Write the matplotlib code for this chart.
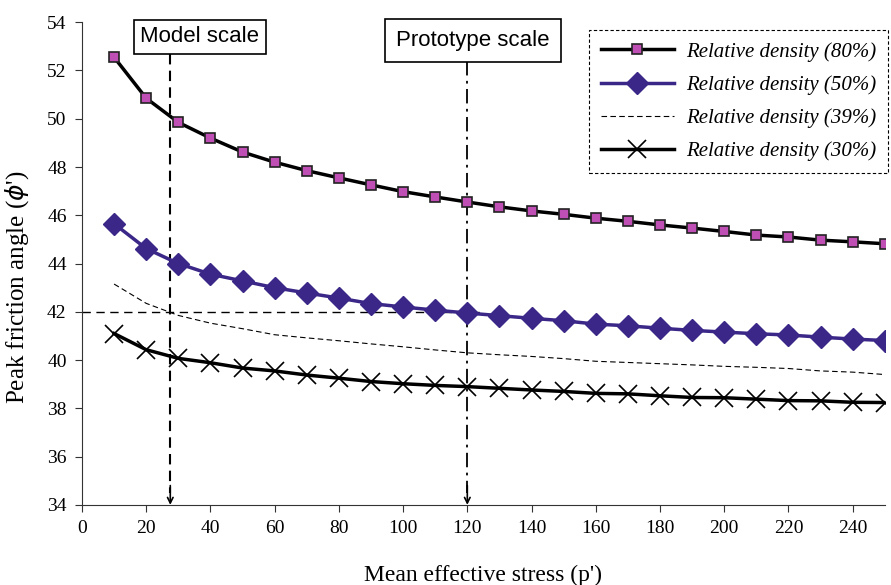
import matplotlib.pyplot as plt
import numpy as np

# mean effective stress (p')
stress = np.arange(10, 260, 10)

# peak friction angle for each relative density
dr80 = [52.55, 50.85, 49.85, 49.2, 48.62, 48.2, 47.85, 47.55, 47.26, 46.98,
        46.76, 46.55, 46.35, 46.18, 46.04, 45.88, 45.75, 45.6, 45.47, 45.33,
        45.18, 45.1, 44.97, 44.9, 44.82]
dr50 = [45.65, 44.62, 44.0, 43.56, 43.28, 43.0, 42.78, 42.57, 42.34, 42.2,
        42.07, 41.95, 41.84, 41.73, 41.63, 41.49, 41.42, 41.32, 41.23, 41.16,
        41.09, 41.04, 40.95, 40.87, 40.81]
dr39 = [43.15, 42.35, 41.85, 41.53, 41.3, 41.05, 40.92, 40.8, 40.67, 40.55,
        40.42, 40.3, 40.22, 40.15, 40.06, 39.95, 39.9, 39.85, 39.8, 39.74,
        39.7, 39.65, 39.55, 39.5, 39.4]
dr30 = [41.1, 40.43, 40.07, 39.89, 39.67, 39.55, 39.38, 39.25, 39.11, 39.02,
        38.95, 38.9, 38.83, 38.76, 38.7, 38.62, 38.6, 38.52, 38.45, 38.44,
        38.38, 38.32, 38.31, 38.25, 38.24]

labels = ['Relative density (80%)', 'Relative density (50%)',
          'Relative density (39%)', 'Relative density (30%)']

model_p = 27.5
proto_p = 120
phi_ref = 42

serif = 'Liberation Serif'
sans = 'Liberation Sans'

fig = plt.figure(figsize=(8.91, 5.85), dpi=100)
ax = fig.add_axes([0.092, 0.137, 0.901, 0.825])

ax.plot(stress, dr80, color='black', lw=2.5, marker='s', ms=7,
        mfc='#c04fb5', mec='#222222', mew=1.2, label=labels[0], zorder=4)
ax.plot(stress, dr50, color='#3b2787', lw=2.5, marker='D', ms=11,
        mfc='#3b2787', mec='#3b2787', label=labels[1], zorder=4)
ax.plot(stress, dr39, color='black', lw=0.8, ls=(0, (5, 3)),
        label=labels[2], zorder=3)
ax.plot(stress, dr30, color='black', lw=2.5, marker='x', ms=13, mew=1.2,
        label=labels[3], zorder=4)

# reference lines
ax.plot([0, 124], [phi_ref, phi_ref], color='black', lw=1, ls=(0, (6, 4)),
        zorder=2)
ax.plot([model_p, model_p], [52.7, 34.5], color='black', lw=1.5,
        ls=(0, (5, 3)), zorder=2)
ax.plot([proto_p, proto_p], [52.4, 34.5], color='black', lw=1.3,
        ls=(0, (8, 3, 1.5, 3)), zorder=2)
for xp in (model_p, proto_p):
    ax.annotate('', xy=(xp, 34.0), xytext=(xp, 34.8),
                arrowprops=dict(arrowstyle='->', color='black', lw=1.2,
                                shrinkA=0, shrinkB=0))

ax.text(36.7, 53.4, 'Model scale', family=sans, fontsize=16,
        ha='center', va='center', zorder=6, clip_on=False,
        bbox=dict(boxstyle='square,pad=0.3', fc='white', ec='black', lw=1.2))
ax.text(121.7, 53.25, 'Prototype scale', family=sans, fontsize=16,
        ha='center', va='center', zorder=6, clip_on=False,
        bbox=dict(boxstyle='square,pad=0.5', fc='white', ec='black', lw=1.2))

ax.set_xlim(0, 250)
ax.set_ylim(34, 54)
ax.set_xticks(np.arange(0, 241, 20))
ax.set_yticks(np.arange(34, 55, 2))
ax.spines['top'].set_visible(False)
ax.spines['right'].set_visible(False)
ax.spines['left'].set_color('#333333')
ax.spines['bottom'].set_color('#333333')
ax.tick_params(direction='out', length=5, color='#333333', labelsize=14,
               pad=6)
for lab in ax.get_xticklabels() + ax.get_yticklabels():
    lab.set_family(serif)

ax.set_xlabel("Mean effective stress (p')", family=serif, fontsize=17,
              labelpad=20)
ax.set_ylabel("Peak friction angle ($\\phi$')", family=serif, fontsize=18)
ax.yaxis.set_label_coords(-0.064, 0.45)

leg = ax.legend(loc='upper right', bbox_to_anchor=(1.004, 0.983),
                borderaxespad=0,
                prop=dict(family=serif, style='italic', size=15),
                handlelength=3.5, labelspacing=0.65, borderpad=0.55,
                handletextpad=0.6, fancybox=False, framealpha=1,
                edgecolor='black')
leg.get_frame().set_linestyle((0, (3, 2)))
leg.get_frame().set_linewidth(0.8)
leg.set_zorder(7)

plt.savefig('out.png', dpi=100)
